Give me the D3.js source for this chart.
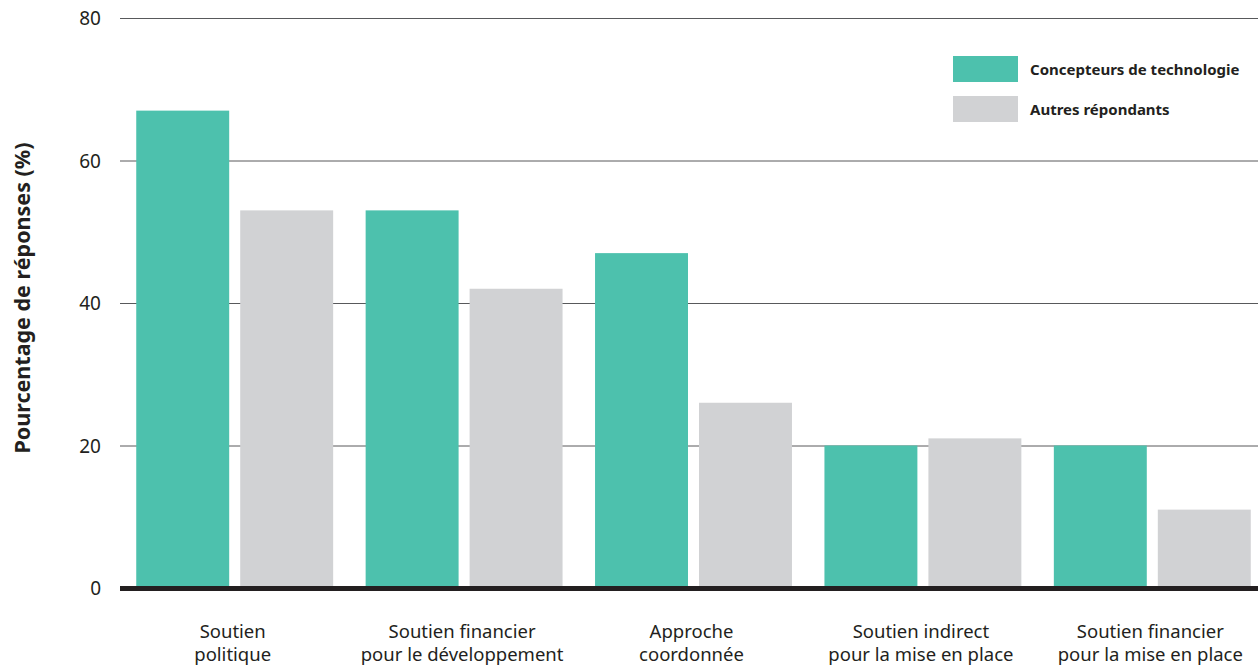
<!DOCTYPE html>
<html>
<head>
<meta charset="utf-8">
<script src="https://cdn.jsdelivr.net/npm/d3@7"></script>
<style>
  html, body { margin: 0; padding: 0; background: #fff; }
  svg { display: block; font-family: "Noto Sans", "Open Sans", sans-serif; }
</style>
</head>
<body>
<svg id="chart" width="1258" height="666"></svg>
<script>
// Categories (each label split into lines)
const categories = [
  ["Soutien", "politique"],
  ["Soutien financier", "pour le développement"],
  ["Approche", "coordonnée"],
  ["Soutien indirect", "pour la mise en place"],
  ["Soutien financier", "pour la mise en place"]
];
const seriesNames = ["Concepteurs de technologie", "Autres répondants"];
const concepteurs = [67, 53, 47, 20, 20];
const autres = [53, 42, 26, 21, 11];
const yTicks = [0, 20, 40, 60, 80];
const colors = ["#4dc1ad", "#d1d2d4"];

const svg = d3.select("#chart");
const ink = "#231f20";
const fontStack = '"Noto Sans", "Open Sans", sans-serif';

const y = d3.scaleLinear().domain([0, 80]).range([588, 18]);
const x0 = d3.scaleBand()
  .domain(d3.range(categories.length))
  .range([120, 1267])
  .paddingInner(0.1416)
  .paddingOuter(0.0708);
const x1 = d3.scaleBand()
  .domain(d3.range(seriesNames.length))
  .range([0, x0.bandwidth()])
  .paddingInner(0.106);

// Gridlines and tick labels
const yAxis = d3.axisLeft(y).tickValues(yTicks).tickSize(-(1258 - 120)).tickPadding(20);
const gy = svg.append("g").attr("transform", "translate(120,0)").call(yAxis)
  .attr("font-family", fontStack);
gy.select(".domain").remove();
gy.selectAll(".tick line").attr("stroke", "#58595b").attr("stroke-width", 1);
gy.selectAll(".tick text")
  .attr("fill", ink)
  .attr("font-size", 19)
  .attr("x", -19)
  .attr("dy", "0.36em");

// Bars
const values = [concepteurs, autres];
const groups = svg.append("g").selectAll("g")
  .data(categories.map((c, i) => i))
  .join("g")
  .attr("transform", i => `translate(${x0(i)},0)`);
groups.selectAll("rect")
  .data(i => values.map((v, s) => ({ s, v: v[i] })))
  .join("rect")
  .attr("x", d => x1(d.s))
  .attr("width", x1.bandwidth())
  .attr("y", d => y(d.v))
  .attr("height", d => y(0) - y(d.v))
  .attr("fill", d => colors[d.s]);

// Baseline
svg.append("line")
  .attr("x1", 120).attr("x2", 1258)
  .attr("y1", y(0) + 0.5).attr("y2", y(0) + 0.5)
  .attr("stroke", ink).attr("stroke-width", 5);

// Category labels, one text per line
const labelG = svg.append("g")
  .attr("text-anchor", "middle")
  .attr("fill", ink)
  .attr("font-size", 18.5);
categories.forEach((lines, i) => {
  const cx = x0(i) + x0.bandwidth() / 2 - 2;
  lines.forEach((line, j) => {
    labelG.append("text")
      .attr("x", cx)
      .attr("y", 637.5 + j * 23.5)
      .text(line);
  });
});

// Y-axis title
svg.append("text")
  .attr("transform", "translate(30,298) rotate(-90)")
  .attr("text-anchor", "middle")
  .attr("font-size", 21.5)
  .attr("font-weight", "bold")
  .attr("fill", ink)
  .text("Pourcentage de réponses (%)");

// Legend
const legend = svg.append("g").attr("transform", "translate(953,56)");
const li = legend.selectAll("g")
  .data(seriesNames)
  .join("g")
  .attr("transform", (d, i) => `translate(0,${i * 40})`);
li.append("rect")
  .attr("width", 65).attr("height", 26)
  .attr("fill", (d, i) => colors[i]);
li.append("text")
  .attr("x", 77).attr("y", 19)
  .attr("font-size", 15)
  .attr("font-weight", "bold")
  .attr("fill", ink)
  .text(d => d);
</script>
</body>
</html>
